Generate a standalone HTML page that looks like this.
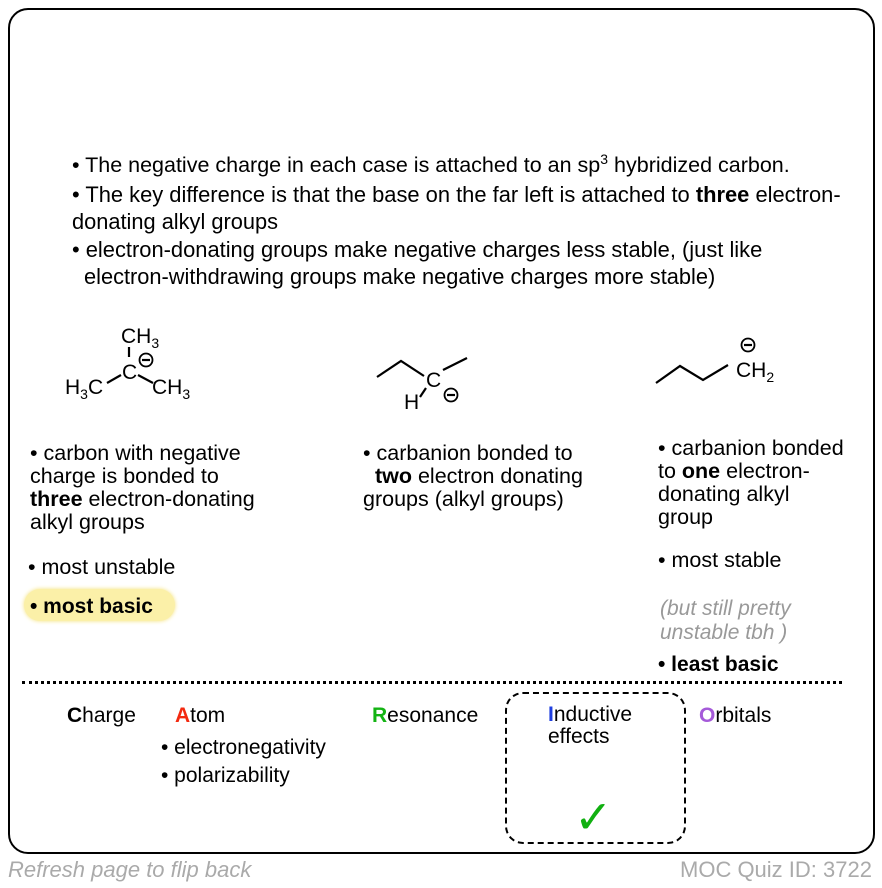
<!DOCTYPE html>
<html><head><meta charset="utf-8"><style>
body{margin:0;width:882px;height:888px;background:#fff;font-family:"Liberation Sans",Arial,sans-serif;color:#000;position:relative;overflow:hidden}
.box{position:absolute;left:8px;top:8px;width:867px;height:846px;border:2.5px solid #000;border-radius:20px;box-sizing:border-box}
.t{position:absolute;font-size:21px;line-height:23px;white-space:nowrap}
b{font-weight:bold}
.hl{position:absolute;left:24px;top:589px;width:151px;height:32px;background:#fbf0a8;border-radius:16px;box-shadow:0 0 4px #f5e27a}
.dash{position:absolute;left:22px;top:681px;width:820px;border-top:3px dotted #000}
.ibox{position:absolute;left:505px;top:692px;width:181px;height:152px;border:2.5px dashed #000;border-radius:18px;box-sizing:border-box}
</style></head><body>
<div class="box"></div>
<div class="t" style="left:72px;top:154px;font-size:21.5px">• The negative charge in each case is attached to an sp<sup style="font-size:14px;line-height:0">3</sup> hybridized carbon.</div>
<div class="t" style="left:72px;top:183px;font-size:21.9px">• The key difference is that the base on the far left is attached to <b>three</b> electron-</div>
<div class="t" style="left:72px;top:210px;font-size:21.8px">donating alkyl groups</div>
<div class="t" style="left:72px;top:238px;font-size:21.9px">• electron-donating groups make negative charges less stable, (just like</div>
<div class="t" style="left:84px;top:265px;font-size:21.8px">electron-withdrawing groups make negative charges more stable)</div>

<svg style="position:absolute;left:0;top:0" width="882" height="440" font-family="Liberation Sans,Arial,sans-serif" font-size="21">
<g stroke="#000" stroke-width="2.2" fill="none">
<line x1="129" y1="347" x2="129" y2="357"/>
<line x1="107" y1="383" x2="121" y2="375"/>
<line x1="138" y1="375" x2="153" y2="383"/>
<circle cx="146" cy="360" r="6.5" stroke-width="1.8"/><line x1="142" y1="360" x2="150" y2="360"/>
<polyline points="377,377 401,361 424,376"/>
<line x1="443" y1="370" x2="467" y2="358"/>
<line x1="420" y1="397" x2="426" y2="388"/>
<circle cx="451" cy="395" r="6.5" stroke-width="1.8"/><line x1="447" y1="395" x2="455" y2="395"/>
<polyline points="656,383 680,366 703,380 728,365"/>
<circle cx="748" cy="345" r="6.5" stroke-width="1.8"/><line x1="744" y1="345" x2="752" y2="345"/>
</g>
<text x="121" y="343">CH<tspan font-size="14" dy="5">3</tspan></text>
<text x="122" y="379">C</text>
<text x="65" y="394">H<tspan font-size="14" dy="5">3</tspan><tspan dy="-5">C</tspan></text>
<text x="152" y="394">CH<tspan font-size="14" dy="5">3</tspan></text>
<text x="426" y="387">C</text>
<text x="404" y="409">H</text>
<text x="736" y="377">CH<tspan font-size="14" dy="5">2</tspan></text>
</svg>

<div class="t" style="left:30px;top:442px;font-size:21.5px">• carbon with negative<br>charge is bonded to<br><b>three</b> electron-donating<br>alkyl groups</div>
<div class="t" style="left:363px;top:442px;font-size:21.5px">• carbanion bonded to<br>&nbsp;&nbsp;<b>two</b> electron donating<br>groups (alkyl groups)</div>
<div class="t" style="left:658px;top:437px;font-size:21.5px">• carbanion bonded<br>to <b>one</b> electron-<br>donating alkyl<br>group</div>
<div class="t" style="left:28px;top:556px;font-size:21.5px">• most unstable</div>
<div class="hl"></div>
<div class="t" style="left:30px;top:595px;font-size:21px"><b>• most basic</b></div>
<div class="t" style="left:658px;top:549px;font-size:21.5px">• most stable</div>
<div class="t" style="left:660px;top:597px;color:#999;font-style:italic;line-height:24px;font-size:21px">(but still pretty<br>unstable tbh )</div>
<div class="t" style="left:658px;top:653px"><b>• least basic</b></div>
<div class="dash"></div>
<div class="ibox"></div>
<div class="t" style="left:67px;top:704px"><b>C</b>harge</div>
<div class="t" style="left:175px;top:704px"><b style="color:#f32a10">A</b>tom</div>
<div class="t" style="left:161px;top:736px">• electronegativity</div>
<div class="t" style="left:161px;top:764px">• polarizability</div>
<div class="t" style="left:372px;top:704px"><b style="color:#14b314">R</b>esonance</div>
<div class="t" style="left:548px;top:704px;line-height:22px"><b style="color:#1f3fe0">I</b>nductive<br>effects</div>
<div class="t" style="left:699px;top:704px"><b style="color:#a55ad9">O</b>rbitals</div>
<div class="t" style="left:574px;top:794px;font-size:46px;line-height:46px;color:#11b011;font-weight:bold;font-family:'DejaVu Sans',sans-serif">✓</div>
<div class="t" style="left:8px;top:858px;color:#aaa;font-style:italic;font-size:22px">Refresh page to flip back</div>
<div class="t" style="left:680px;top:858px;color:#aaa;font-size:22px">MOC Quiz ID: 3722</div>
</body></html>
